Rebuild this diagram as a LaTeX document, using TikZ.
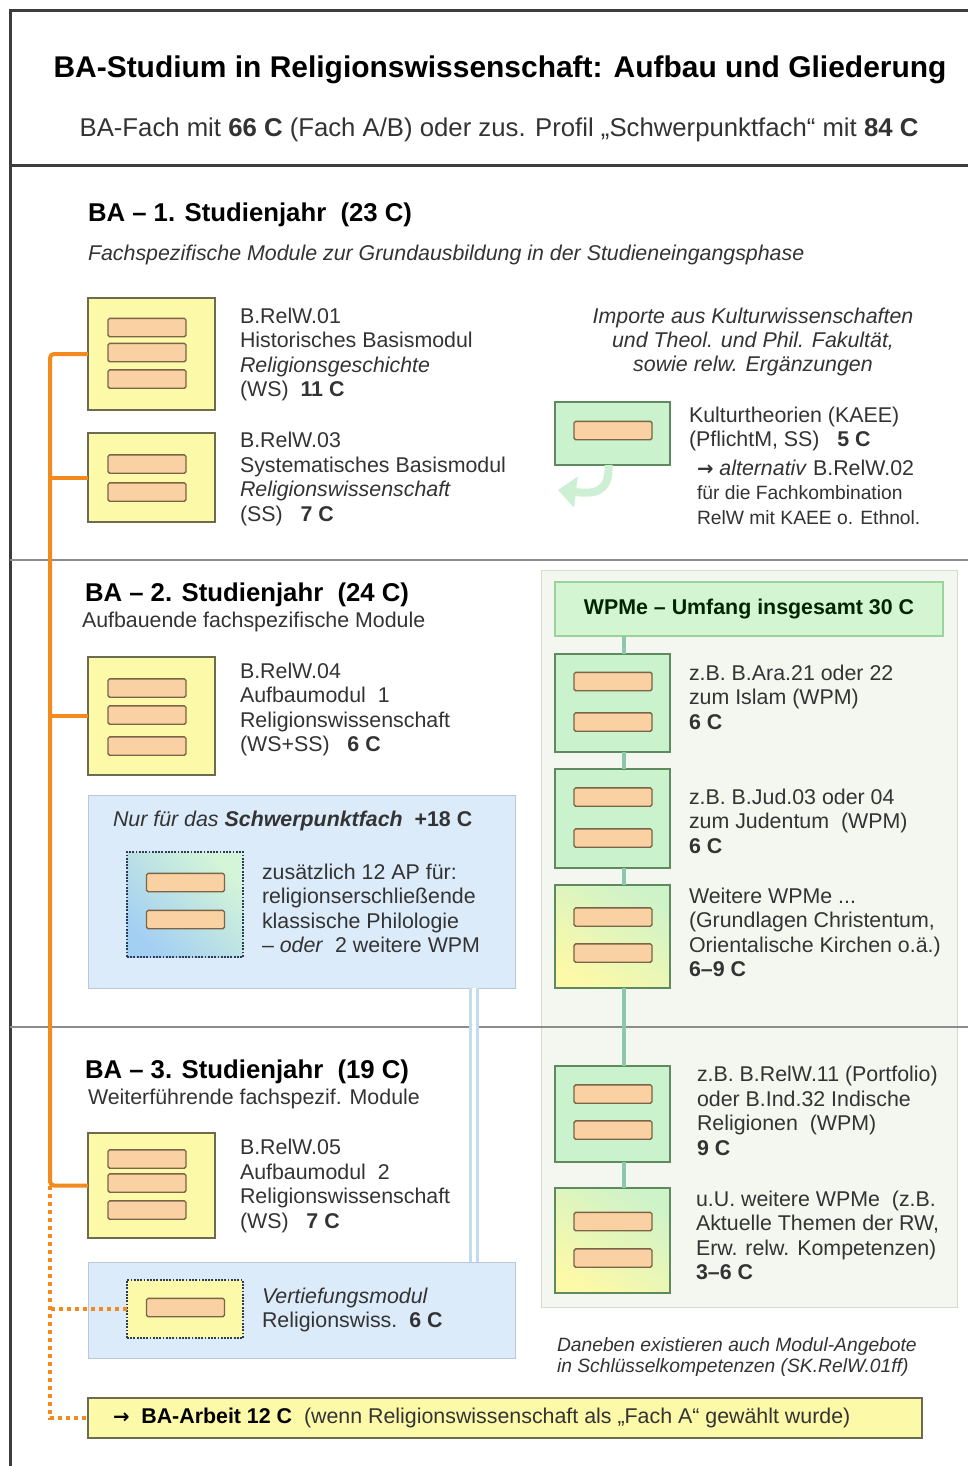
\documentclass[tikz,border=0pt]{standalone}
\usepackage{fontspec}
\setmainfont{Liberation Sans}
\newfontfamily\arrfont{DejaVu Sans}
\usetikzlibrary{arrows.meta}

\definecolor{txtgray}{HTML}{333333}
\definecolor{cFrame}{HTML}{3C3C3C}
\definecolor{cSep}{HTML}{8C8C8C}
\definecolor{cYellow}{HTML}{FCF9A8}
\definecolor{cBoxline}{HTML}{6B6B4E}
\definecolor{cBar}{HTML}{FAD1A2}
\definecolor{cBarline}{HTML}{7A6548}
\definecolor{cOrange}{HTML}{F28A1E}
\definecolor{cGreen}{HTML}{C9F2CD}
\definecolor{cGreenline}{HTML}{5F8A60}
\definecolor{cWpmbg}{HTML}{F4F7EF}
\definecolor{cWpmedge}{HTML}{D6DBD0}
\definecolor{cHead}{HTML}{D4F5D1}
\definecolor{cHeadline}{HTML}{9BD49A}
\definecolor{cTeal}{HTML}{8CC7AE}
\definecolor{cBlue}{HTML}{DCEBFA}
\definecolor{cBlueedge}{HTML}{B9C7D6}
\definecolor{cLink}{HTML}{C3DAF0}
\definecolor{cSky}{HTML}{A3CFF3}
\definecolor{cDot}{HTML}{2E3B58}
\definecolor{cBack}{HTML}{CDEFD3}

\newcommand\fbody{\fontsize{15.2}{17.4}\selectfont}
\newcommand\fsm{\fontsize{13.7}{17.4}\selectfont}
\newcommand\fnote{\fontsize{13.7}{15.6}\selectfont}
\newcommand\fhead{\fontsize{18.3}{21}\selectfont}
\newcommand\ftitle{\fontsize{21.3}{25}\selectfont}
\newcommand\rarr{{\arrfont\fontsize{14}{17.4}\selectfont\bfseries →}}
\newcommand\modbars[3]{\foreach \y [count=\i] in {#3} {\node[bar] (#1b\i) at (#2,\y) {};}}

\tikzset{
  every node/.style={inner sep=0pt, outer sep=0pt, text=txtgray},
  txt/.style={anchor=west, align=left, font=\fbody},
  headtxt/.style={anchor=west, font=\fhead\bfseries, text=black},
  modbox/.style={draw=cBoxline, fill=cYellow, line width=1.1pt, minimum width=31.75mm},
  grnbox/.style={draw=cGreenline, fill=cGreen, line width=1.1pt, minimum width=28.75mm},
  mixbox/.style={draw=cGreenline, line width=1.1pt, minimum width=28.75mm,
    top color=cGreen!90!cYellow, bottom color=cYellow, shading angle=-30},
  bar/.style={draw=cBarline, fill=cBar, line width=1pt, rounded corners=1.2pt,
    minimum width=19.5mm, minimum height=4.6mm},
  dotbox/.style={draw=cDot, densely dotted, line width=1.3pt, minimum width=29mm},
  bluepanel/.style={draw=cBlueedge, fill=cBlue, line width=0.6pt, minimum width=106.75mm},
  frameln/.style={draw=cFrame, line width=0.75mm},
  sepln/.style={draw=cSep, line width=0.5mm},
  spineln/.style={draw=cOrange, line width=1mm},
  spinedot/.style={draw=cOrange, line width=1mm, dash pattern=on 1mm off 1mm},
  wpmln/.style={draw=cTeal, line width=1mm},
  linkln/.style={draw=cLink, line width=0.8mm, double=white, double distance=0.8mm},
  backarrow/.style={draw=cBack, line width=2mm, -{Triangle[length=4.5mm,width=7.5mm]}}
}

\begin{document}
\begin{tikzpicture}[x=0.25mm,y=-0.25mm]
\useasboundingbox (0,0) rectangle (968,1466);
\fill[white] (0,0) rectangle (968,1466);
\coordinate (spine) at (50,0);
\coordinate (wx) at (624,0);
\coordinate (linkx) at (474,0);
\coordinate (kback) at (558,490);

\draw[frameln] (968,10) -- (10,10) -- (10,1466);
\draw[frameln] (10,165) -- (968,165);

\node[font=\ftitle\bfseries, text=black] (title) at (500,70) {BA-Studium in Religionswissenschaft: Aufbau und Gliederung};
\node[font=\fhead] (subtitle) at (499,130) {BA-Fach mit \textbf{66 C} (Fach A/B) oder zus. Profil „Schwerpunktfach“ mit \textbf{84 C}};

\node[draw=cWpmedge, fill=cWpmbg, line width=0.6pt, minimum width=104mm, minimum height=184.25mm] (wpm) at (749,938.5) {};
\node[bluepanel, minimum height=48.25mm] (spf) at (301.5,891.5) {};
\node[bluepanel, minimum height=24mm] (vtf) at (301.5,1310) {};
\draw[sepln] (10,560) -- (968,560);
\draw[sepln] (10,1027) -- (968,1027);
\draw[linkln] (spf.south -| linkx) -- (vtf.north -| linkx);

\node[headtxt] (h1) at (88,215) {BA – 1. Studienjahr\ \ (23 C)};
\node[txt, font=\fbody\itshape] (h1s) at (88,255) {Fachspezifische Module zur Grundausbildung in der Studieneingangsphase};

\node[modbox, minimum height=28mm] (m01) at (151.5,354) {};
\modbars{m01}{147}{327.5,352.5,379}
\node[txt] (t01) at (240,354.5) {B.RelW.01\\Historisches Basismodul\\\textit{Religionsgeschichte}\\(WS)\ \ \textbf{11 C}};

\node[modbox, minimum height=22.25mm] (m03) at (151.5,477.5) {};
\modbars{m03}{147}{464,492}
\node[txt] (t03) at (240,479) {B.RelW.03\\Systematisches Basismodul\\\textit{Religionswissenschaft}\\(SS)\ \ \ \textbf{7 C}};

\node[font=\fbody\itshape, align=center] (imp) at (753,342) {Importe aus Kulturwissenschaften\\und Theol. und Phil. Fakultät,\\sowie relw. Ergänzungen};
\node[grnbox, minimum height=15.75mm] (kaee) at (612.5,433.5) {};
\modbars{kaee}{613}{430.5}
\node[txt] (kaeet) at (689,429) {Kulturtheorien (KAEE)\\(PflichtM, SS)\ \ \ \textbf{5 C}};
\node[txt] (kaeea) at (697,492) {\rarr\ \textit{alternativ} B.RelW.02\\{\fsm für die Fachkombination}\\{\fsm RelW mit KAEE o. Ethnol.}};
\draw[backarrow] ([xshift=-1mm]kaee.south) .. controls (610,494) and (592,494) .. (kback);

\node[headtxt] (h2) at (85,595) {BA – 2. Studienjahr\ \ (24 C)};
\node[txt] (h2s) at (82,622) {Aufbauende fachspezifische Module};

\node[modbox, minimum height=29.5mm] (m04) at (151.5,716) {};
\modbars{m04}{147}{688,715,746}
\node[txt] (t04) at (240,709.5) {B.RelW.04\\Aufbaumodul\ \ 1\\Religionswissenschaft\\(WS+SS)\ \ \ \textbf{6 C}};

\node[txt] (spft) at (113,821) {\textit{Nur für das} \textbf{\textit{Schwerpunktfach}}\ \ \textbf{+18 C}};
\node[dotbox, minimum height=26.25mm, top color=cGreen!80, bottom color=cSky, shading angle=-45] (spfd) at (185,904.5) {};
\modbars{spfd}{185.5}{882.5,919.5}
\node[txt] (spfx) at (262,908.5) {zusätzlich 12 AP für:\\religionserschließende\\klassische Philologie\\– \textit{oder}\ \ 2 weitere WPM};

\node[draw=cHeadline, fill=cHead, line width=1pt, minimum width=97mm, minimum height=13.5mm,
  font=\fbody\bfseries, text=black!85!green] (wpmhead) at (749,609) {WPMe – Umfang insgesamt 30 C};

\node[grnbox, minimum height=24.5mm] (w1) at (612.5,703) {};
\modbars{w1}{613}{681.5,722}
\node[txt] (w1t) at (689,697) {z.B. B.Ara.21 oder 22\\zum Islam (WPM)\\\textbf{6 C}};

\node[grnbox, minimum height=24.75mm] (w2) at (612.5,818.5) {};
\modbars{w2}{613}{797,838}
\node[txt] (w2t) at (689,821) {z.B. B.Jud.03 oder 04\\zum Judentum\ \ (WPM)\\\textbf{6 C}};

\node[mixbox, minimum height=25.75mm] (w3) at (612.5,936.5) {};
\modbars{w3}{613}{917,953}
\node[txt] (w3t) at (689,932.5) {Weitere WPMe ...\\(Grundlagen Christentum,\\Orientalische Kirchen o.ä.)\\\textbf{6–9 C}};

\node[grnbox, minimum height=24mm] (w4) at (612.5,1114) {};
\modbars{w4}{613}{1094,1130}
\node[txt] (w4t) at (697,1111) {z.B. B.RelW.11 (Portfolio)\\oder B.Ind.32 Indische\\Religionen\ \ (WPM)\\\textbf{9 C}};

\node[mixbox, minimum height=26.25mm] (w5) at (612.5,1240.5) {};
\modbars{w5}{613}{1221.5,1258}
\node[txt] (w5t) at (696,1235.5) {u.U. weitere WPMe\ \ (z.B.\\Aktuelle Themen der RW,\\Erw. relw. Kompetenzen)\\\textbf{3–6 C}};

\foreach \a/\b in {wpmhead/w1,w1/w2,w2/w3,w3/w4,w4/w5}
  \draw[wpmln] (\a.south -| wx) -- (\b.north -| wx);

\node[headtxt] (h3) at (85,1072) {BA – 3. Studienjahr\ \ (19 C)};
\node[txt] (h3s) at (88,1099) {Weiterführende fachspezif. Module};

\node[modbox, minimum height=26.25mm] (m05) at (151.5,1185.5) {};
\modbars{m05}{147}{1159,1183,1210}
\node[txt] (t05) at (240,1186) {B.RelW.05\\Aufbaumodul\ \ 2\\Religionswissenschaft\\(WS)\ \ \ \textbf{7 C}};

\node[dotbox, fill=cYellow, minimum height=14.5mm] (vtfd) at (185,1309) {};
\modbars{vtfd}{185.5}{1307.5}
\node[txt] (vtft) at (262,1310) {\textit{Vertiefungsmodul}\\Religionswiss.\ \ \textbf{6 C}};

\node[txt, font=\fnote\itshape] (note) at (557,1357) {Daneben existieren auch Modul-Angebote\\in Schlüsselkompetenzen (SK.RelW.01ff)};

\node[modbox, minimum width=208.5mm, minimum height=10mm] (arbeit) at (505,1418) {};
\node[txt] (arbt) at (113,1418) {{\color{black}\rarr}\ \ \textbf{\color{black}BA-Arbeit 12 C}\ \ (wenn Religionswissenschaft als „Fach A“ gewählt wurde)};

\draw[spineln, rounded corners=1mm] (m01.west) -- (m01.west -| spine) -- (m05.west -| spine) -- (m05.west);
\foreach \m in {m03,m04}
  \draw[spineln] (\m.west) -- (\m.west -| spine);
\draw[spinedot] (m05.west -| spine) -- (arbeit.west -| spine) -- (arbeit.west);
\draw[spinedot] (vtfd.west) -- (vtfd.west -| spine);
\end{tikzpicture}
\end{document}
